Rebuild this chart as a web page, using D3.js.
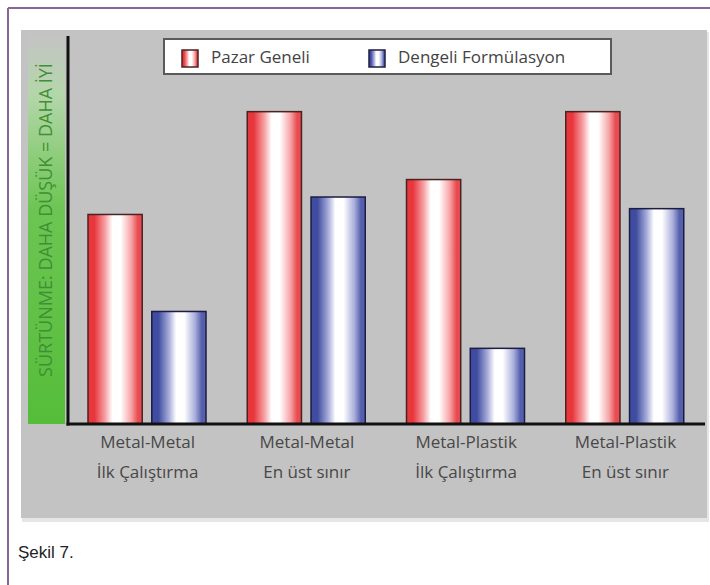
<!DOCTYPE html>
<html>
<head>
<meta charset="utf-8">
<title>Şekil 7</title>
<style>
  body { margin: 0; background: #ffffff; }
  svg { display: block; font-family: "Open Sans", sans-serif; }
  .cat-label { fill: #484848; font-size: 17px; }
  .legend-text { fill: #444; font-size: 17px; }
</style>
</head>
<body>
<div id="chart"></div>
<script src="https://cdn.jsdelivr.net/npm/d3@7"></script>
<script>
// groups along the x axis (two text lines each)
const categories = ["Metal-Metal|İlk Çalıştırma", "Metal-Metal|En üst sınır", "Metal-Plastik|İlk Çalıştırma", "Metal-Plastik|En üst sınır"];
const seriesNames = ["Pazar Geneli", "Dengeli Formülasyon"];
// relative friction (no numeric axis in the original)
const pazarGeneli = [5.4, 8.05, 6.3, 8.05];
const dengeliFormulasyon = [2.9, 5.85, 1.95, 5.55];
const yLabel = "SÜRTÜNME: DAHA DÜŞÜK = DAHA İYİ";
const caption = "Şekil 7.";

const width = 710, height = 585;
const plot = { left: 68, right: 705, top: 36, bottom: 424 };

const svg = d3.select("#chart").append("svg")
  .attr("width", width)
  .attr("height", height);

const defs = svg.append("defs");

// cylinder-like horizontal gradients for the bars
function barGradient(id, edgeL, mid, edgeR) {
  const g = defs.append("linearGradient").attr("id", id)
    .attr("x1", "0%").attr("x2", "100%").attr("y1", "0%").attr("y2", "0%");
  [[0, edgeL], [0.12, edgeL], [0.32, mid], [0.45, "#ffffff"], [0.6, "#ffffff"], [0.8, mid], [0.92, edgeR], [1, edgeR]]
    .forEach(s => g.append("stop").attr("offset", s[0]).attr("stop-color", s[1]));
}
barGradient("grad-red", "#e8363d", "#f6a3a6", "#e84b50");
barGradient("grad-blue", "#3f4c9f", "#a9aedb", "#5560ad");

const green = defs.append("linearGradient").attr("id", "grad-green")
  .attr("x1", "0%").attr("x2", "0%").attr("y1", "0%").attr("y2", "100%");
[[0, "#c4c4c4"], [0.15, "#b4d6aa"], [0.45, "#6cc552"], [1, "#55bd3a"]]
  .forEach(s => green.append("stop").attr("offset", s[0]).attr("stop-color", s[1]));

// frame
svg.append("line").attr("x1", 8).attr("x2", width).attr("y1", 8).attr("y2", 8)
  .attr("stroke", "#8a6696").attr("stroke-width", 2);
svg.append("line").attr("x1", 8).attr("x2", 8).attr("y1", 8).attr("y2", height)
  .attr("stroke", "#8a6696").attr("stroke-width", 2);

// grey panel with a soft shadow under it
svg.append("rect").attr("x", 22).attr("y", 32).attr("width", 687).attr("height", 490)
  .attr("fill", "#e6e6e6");
svg.append("rect").attr("x", 21).attr("y", 30).attr("width", 686).attr("height", 488)
  .attr("fill", "#c3c3c3");

// green side band + rotated label
svg.append("rect").attr("x", 28).attr("y", 36).attr("width", 37).attr("height", plot.bottom - 36)
  .attr("fill", "url(#grad-green)");
svg.append("text")
  .attr("transform", `translate(52,220) rotate(-90)`)
  .attr("text-anchor", "middle")
  .attr("fill", "#3f8f34")
  .style("font-size", "18px")
  .text(yLabel);

// scales
const x0 = d3.scaleBand().domain(categories).range([plot.left, plot.right]).padding(0);
const x1 = d3.scaleBand().domain(seriesNames).range([20, 138]).paddingInner(0.15);
const y = d3.scaleLinear().domain([0, 10]).range([plot.bottom, plot.top]);

const rows = categories.map((c, i) => ({ cat: c, vals: [
  { key: seriesNames[0], v: pazarGeneli[i], fill: "url(#grad-red)", stroke: "#4a2222" },
  { key: seriesNames[1], v: dengeliFormulasyon[i], fill: "url(#grad-blue)", stroke: "#1c1c44" }
]}));

const groups = svg.selectAll(".group").data(rows).enter().append("g")
  .attr("class", "group")
  .attr("transform", d => `translate(${x0(d.cat)},0)`);

groups.selectAll("rect").data(d => d.vals).enter().append("rect")
  .attr("x", d => x1(d.key))
  .attr("width", x1.bandwidth())
  .attr("y", d => y(d.v))
  .attr("height", d => y(0) - y(d.v))
  .attr("fill", d => d.fill)
  .attr("stroke", d => d.stroke)
  .attr("stroke-width", 1.5);

// axes
svg.append("line").attr("x1", plot.left).attr("x2", plot.left).attr("y1", plot.top).attr("y2", plot.bottom + 1.5)
  .attr("stroke", "#111").attr("stroke-width", 3);
svg.append("line").attr("x1", plot.left - 1.5).attr("x2", plot.right).attr("y1", plot.bottom).attr("y2", plot.bottom)
  .attr("stroke", "#111").attr("stroke-width", 3);

// category labels
groups.each(function(d) {
  const lines = d.cat.split("|");
  const t = d3.select(this).append("text")
    .attr("class", "cat-label")
    .attr("text-anchor", "middle");
  lines.forEach((l, i) => t.append("tspan")
    .attr("x", x0.bandwidth() / 2)
    .attr("y", 448 + i * 30)
    .text(l));
});

// legend
const legend = svg.append("g");
legend.append("rect").attr("x", 164).attr("y", 39).attr("width", 447).attr("height", 35)
  .attr("fill", "#ffffff").attr("stroke", "#5a5a5a").attr("stroke-width", 2);
const legendItems = [
  { name: seriesNames[0], fill: "url(#grad-red)", stroke: "#4a2222", x: 182 },
  { name: seriesNames[1], fill: "url(#grad-blue)", stroke: "#1c1c44", x: 369 }
];
legendItems.forEach(it => {
  legend.append("rect").attr("x", it.x).attr("y", 50).attr("width", 16).attr("height", 17)
    .attr("fill", it.fill).attr("stroke", it.stroke).attr("stroke-width", 1.5);
  legend.append("text").attr("class", "legend-text")
    .attr("x", it.x + 29).attr("y", 63).text(it.name);
});

// caption
svg.append("text").attr("x", 18).attr("y", 558)
  .attr("fill", "#222")
  .style("font-family", "'Liberation Sans', Arial, sans-serif")
  .style("font-size", "17px")
  .text(caption);
</script>
</body>
</html>
